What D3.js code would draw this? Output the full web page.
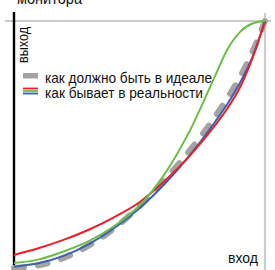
<!DOCTYPE html>
<html>
<head>
<meta charset="utf-8">
<script src="https://cdn.jsdelivr.net/npm/d3@7"></script>
<style>
    html, body { margin: 0; padding: 0; background: #fff; }
    svg { display: block; }
    text { font-family: "Liberation Sans", Arial, sans-serif; fill: #111; }
</style>
</head>
<body>
<div id="chart"></div>
<script>

    // input level (0..1) and output level
    var input   = [0, 0.1, 0.2, 0.3, 0.4, 0.5, 0.6, 0.7, 0.8, 0.85, 0.9, 0.95, 1];

    var ideal   = [0, 0.011, 0.042, 0.092, 0.161, 0.25, 0.356, 0.476, 0.61, 0.688, 0.772, 0.875, 1];
    var red     = [0.053, 0.081, 0.115, 0.156, 0.206, 0.266, 0.352, 0.454, 0.576, 0.646, 0.731, 0.85, 1];
    var green   = [0.02, 0.035, 0.068, 0.11, 0.17, 0.253, 0.38, 0.555, 0.775, 0.885, 0.955, 0.99, 1];
    var blue    = [0.005, 0.02, 0.05, 0.098, 0.162, 0.242, 0.34, 0.456, 0.59, 0.664, 0.749, 0.854, 1];

    var labels  = ["как должно быть в идеале", "как бывает в реальности"];
    var axisIn  = "вход";
    var axisOut = ["выход", "монитора"];

    var W = 275, H = 270;

    var svg = d3.select("#chart")
        .append("svg")
        .attr("width", W)
        .attr("height", H);

    var x = d3.scaleLinear().domain([0, 1]).range([14, 265]),
        y = d3.scaleLinear().domain([0, 1]).range([268, 21]);

    function pairs (values) {
        return input.map(function (t, i) { return [t, values[i]]; });
    }

    var line = d3.line()
        .x(function (d) { return x(d[0]); })
        .y(function (d) { return y(d[1]); })
        .curve(d3.curveMonotoneX);

    // frame: gray top / right, black left axis
    svg.append("line")
        .attr("x1", 5).attr("x2", 271)
        .attr("y1", y(1)).attr("y2", y(1))
        .attr("stroke", "#cbcbcb").attr("stroke-width", 2.2);

    svg.append("line")
        .attr("x1", x(1)).attr("x2", x(1))
        .attr("y1", 13).attr("y2", H)
        .attr("stroke", "#cbcbcb").attr("stroke-width", 2.2);

    svg.append("line")
        .attr("x1", x(0)).attr("x2", x(0))
        .attr("y1", 12).attr("y2", H)
        .attr("stroke", "#000").attr("stroke-width", 2.4);

    // curves
    svg.append("path")
        .datum(pairs(ideal))
        .attr("d", line)
        .attr("fill", "none")
        .attr("stroke", "#a3a3a3")
        .attr("stroke-width", 6)
        .attr("stroke-linecap", "round")
        .attr("stroke-dasharray", "10,14");

    [[blue, "#3b5eb4"], [red, "#ea1f26"], [green, "#6cbd45"]].forEach(function (s) {
        svg.append("path")
            .datum(pairs(s[0]))
            .attr("d", line)
            .attr("fill", "none")
            .attr("stroke", s[1])
            .attr("stroke-width", 2);
    });

    // axis texts (condensed face squeezed with textLength)
    function label (sel, size, len) {
        return sel.style("font-size", size + "px")
            .attr("textLength", len)
            .attr("lengthAdjust", "spacingAndGlyphs");
    }

    label(svg.append("text").attr("x", 17).attr("y", 4), 16, 65)
        .text(axisOut[1]);

    label(svg.append("text").attr("transform", "translate(28,63) rotate(-90)"), 14, 36)
        .text(axisOut[0]);

    label(svg.append("text").attr("x", 228).attr("y", 263), 15, 30)
        .text(axisIn);

    // legend
    var legend = svg.append("g");

    legend.append("rect")
        .attr("x", 23).attr("y", 73)
        .attr("width", 15).attr("height", 5.5)
        .attr("fill", "#a3a3a3");

    [["#ea1f26", 88.5], ["#6cbd45", 91], ["#3b5eb4", 93.5]].forEach(function (c) {
        legend.append("line")
            .attr("x1", 23).attr("x2", 38)
            .attr("y1", c[1]).attr("y2", c[1])
            .attr("stroke", c[0]).attr("stroke-width", 1.8);
    });

    var widths = [167, 158];

    legend.selectAll("text.lbl")
        .data(labels)
        .enter()
        .append("text")
        .attr("class", "lbl")
        .attr("x", 45)
        .attr("y", function (d, i) { return 83 + i * 14.5; })
        .style("font-size", "15px")
        .attr("textLength", function (d, i) { return widths[i]; })
        .attr("lengthAdjust", "spacingAndGlyphs")
        .text(function (d) { return d; });

</script>
</body>
</html>
